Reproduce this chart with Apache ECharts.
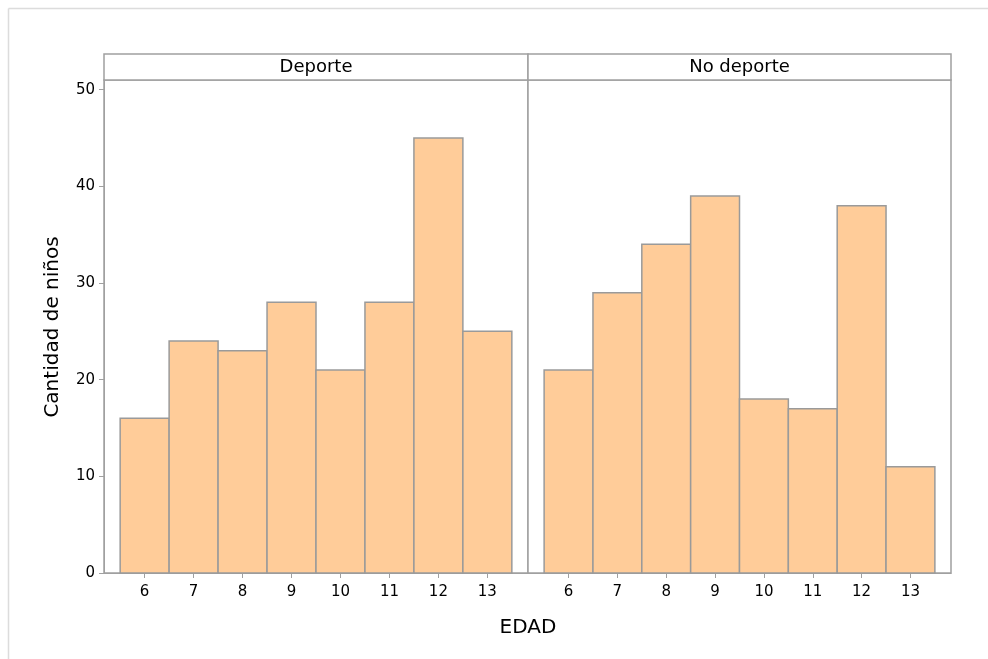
<!DOCTYPE html>
<html>
<head>
<meta charset="utf-8">
<script src="https://cdn.jsdelivr.net/npm/echarts@6/dist/echarts.min.js"></script>
<style>html,body{margin:0;padding:0;background:#fff}#c{width:988px;height:659px}</style>
</head>
<body>
<div id="c"></div>
<script>
const ages = [6, 7, 8, 9, 10, 11, 12, 13];
const deporte = [16, 24, 23, 28, 21, 28, 45, 25];
const noDeporte = [21, 29, 34, 39, 18, 17, 38, 11];
const panels = ['Deporte', 'No deporte'];
const yTicks = [0, 10, 20, 30, 40, 50];

const FONT = 'DejaVu Sans';
const frame = '#a0a0a0';
const chart = echarts.init(document.getElementById('c'));

const grids = [
  {left: 104, top: 80, width: 424, height: 493},
  {left: 528, top: 80, width: 423, height: 493}
];

function xAxis(i) {
  return {
    type: 'value', gridIndex: i, min: 5.17, max: 13.83,
    axisLine: {show: true, lineStyle: {color: frame}},
    axisTick: {show: true, length: 5, customValues: ages, lineStyle: {color: frame}},
    axisLabel: {customValues: ages, color: '#000', fontFamily: FONT, fontSize: 15, margin: 12},
    splitLine: {show: false}
  };
}
function yAxis(i) {
  return {
    type: 'value', gridIndex: i, min: 0, max: 51,
    axisLine: {show: i === 0, lineStyle: {color: frame}},
    axisTick: {show: i === 0, length: 5, customValues: yTicks, lineStyle: {color: frame}},
    axisLabel: {show: i === 0, customValues: yTicks, color: '#000', fontFamily: FONT, fontSize: 15, margin: 9},
    splitLine: {show: false}
  };
}
function barSeries(i, vals) {
  return {
    type: 'custom', xAxisIndex: i, yAxisIndex: i,
    data: ages.map((a, k) => [a, vals[k]]),
    renderItem: function (params, api) {
      const x = api.value(0), y = api.value(1);
      const p0 = api.coord([x - 0.5, y]);
      const p1 = api.coord([x + 0.5, 0]);
      return {
        type: 'rect',
        shape: {x: p0[0], y: p0[1], width: p1[0] - p0[0], height: p1[1] - p0[1]},
        style: {fill: '#FFCC99', stroke: '#9a9a9a', lineWidth: 1.5}
      };
    }
  };
}

const graphic = [
  {type: 'line', shape: {x1: 8.5, y1: 8.5, x2: 988, y2: 8.5}, style: {stroke: '#dcdcdc', lineWidth: 1.5}},
  {type: 'line', shape: {x1: 8.5, y1: 8.5, x2: 8.5, y2: 659}, style: {stroke: '#dcdcdc', lineWidth: 1.5}},
  {type: 'text', x: 528, y: 628, style: {text: 'EDAD', font: '20px "' + FONT + '"', fill: '#000', align: 'center', verticalAlign: 'middle'}},
  {type: 'text', x: 53, y: 327, rotation: Math.PI / 2, style: {text: 'Cantidad de niños', font: '20px "' + FONT + '"', fill: '#000', align: 'center', verticalAlign: 'middle'}}
];
grids.forEach((g, i) => {
  graphic.push({type: 'rect', shape: {x: g.left, y: 54, width: g.width, height: 26}, style: {fill: '#fff', stroke: frame, lineWidth: 1.5}});
  graphic.push({type: 'text', x: g.left + g.width / 2, y: 67, style: {text: panels[i], font: '18px "' + FONT + '"', fill: '#000', align: 'center', verticalAlign: 'middle'}});
});

chart.setOption({
  animation: false,
  backgroundColor: '#fff',
  grid: grids.map(g => Object.assign({show: true, borderColor: frame, borderWidth: 1.5, backgroundColor: '#fff'}, g)),
  xAxis: [xAxis(0), xAxis(1)],
  yAxis: [yAxis(0), yAxis(1)],
  series: [barSeries(0, deporte), barSeries(1, noDeporte)],
  graphic: graphic
});
</script>
</body>
</html>
